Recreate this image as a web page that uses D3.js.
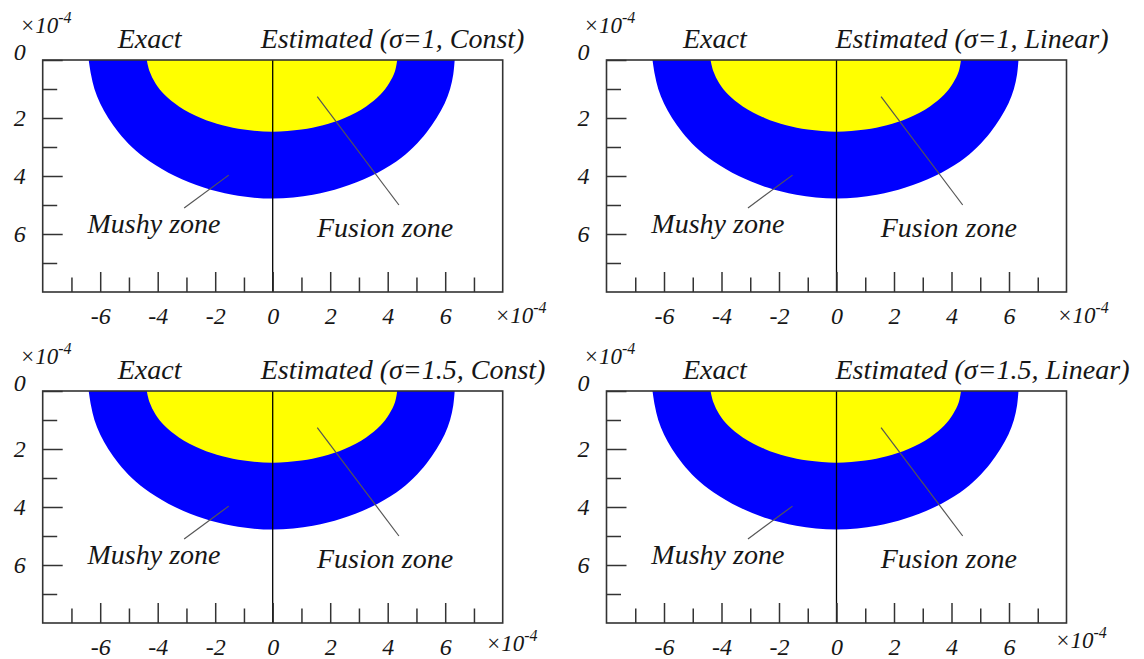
<!DOCTYPE html>
<html>
<head>
<meta charset="utf-8">
<script src="https://cdn.jsdelivr.net/npm/d3@7"></script>
<style>
  html, body { margin: 0; padding: 0; background: #fff; }
  svg text { font-family: "Liberation Serif", "Times New Roman", "DejaVu Serif", serif; font-style: italic; fill: #161616; }
</style>
</head>
<body>
<div id="chart"></div>
<script>
// boundary points: [x (x10^-4), depth (x10^-4)]
const exactMushy = [[-6.4, 0], [-6.32, 0.5], [-6.2, 1], [-6.0, 1.5], [-5.72, 2], [-5.36, 2.5], [-4.9, 3], [-4.27, 3.5], [-3.4, 4], [-2.4, 4.4], [-1.4, 4.65], [0, 4.78]];
const estMushy = [[0, 4.78], [1.4, 4.65], [2.4, 4.4], [3.42, 4], [4.3, 3.5], [4.9, 3], [5.35, 2.5], [5.7, 2], [5.98, 1.5], [6.17, 1], [6.28, 0.5], [6.33, 0]];
const exactFusion = [[-4.38, 0], [-4.28, 0.4], [-4.08, 0.8], [-3.76, 1.2], [-3.26, 1.6], [-2.5, 2.0], [-1.75, 2.25], [-1.0, 2.4], [0, 2.47]];
const estFusion = [[0, 2.47], [1.0, 2.4], [1.75, 2.25], [2.5, 2.0], [3.25, 1.6], [3.74, 1.2], [4.05, 0.8], [4.25, 0.4], [4.33, 0]];

const panelTitles = ["Estimated (σ=1, Const)", "Estimated (σ=1, Linear)", "Estimated (σ=1.5, Const)", "Estimated (σ=1.5, Linear)"];
const xMajor = [-6, -4, -2, 0, 2, 4, 6];
const xMinor = [-7, -5, -3, -1, 1, 3, 5, 7];
const yMajor = [0, 2, 4, 6];
const yMinor = [1, 3, 5, 7];

// layout of the four panels
const panels = [
    { left: 42.7, top: 60, exactDx: 75, estDx: 218, unitDx: 452, unitDy: 31 },
    { left: 606.5, top: 60, exactDx: 76.5, estDx: 229, unitDx: 450.5, unitDy: 31 },
    { left: 42.7, top: 391, exactDx: 75, estDx: 218, unitDx: 443, unitDy: 28 },
    { left: 606.5, top: 391, exactDx: 76.5, estDx: 229, unitDx: 448.5, unitDy: 25 }
];
const pw = 460, ph = 232;
const serif = "'Liberation Serif', 'Times New Roman', 'DejaVu Serif', serif";

const svg = d3.select("#chart").append("svg")
    .attr("width", 1144)
    .attr("height", 659);

function unitLabel(g, x, y) {
    const t = g.append("text").attr("x", x).attr("y", y).style("font-size", "23px");
    t.append("tspan").text("×10");
    t.append("tspan").attr("dy", -10).style("font-size", "16px").text("-4");
}

panels.forEach((p, i) => {
    const x = d3.scaleLinear().domain([-8, 8]).range([p.left, p.left + pw]);
    const y = d3.scaleLinear().domain([0, 8]).range([p.top, p.top + ph]);
    const g = svg.append("g");

    const line = d3.line().x(d => x(d[0])).y(d => y(d[1])).curve(d3.curveCatmullRom);

    g.append("path")
        .attr("d", line(exactMushy.concat(estMushy.slice(1))) + "Z")
        .attr("fill", "#0000ff");
    g.append("path")
        .attr("d", line(exactFusion.concat(estFusion.slice(1))) + "Z")
        .attr("fill", "#ffff00");

    // centre line
    g.append("line")
        .attr("x1", x(0)).attr("x2", x(0))
        .attr("y1", y(0)).attr("y2", y(8))
        .attr("stroke", "#000").attr("stroke-width", 1.3);

    // leader lines
    g.append("line")
        .attr("x1", x(-3.08)).attr("y1", y(5.1))
        .attr("x2", x(-1.53)).attr("y2", y(3.97))
        .attr("stroke", "#555").attr("stroke-width", 1.2);
    g.append("line")
        .attr("x1", x(1.55)).attr("y1", y(1.26))
        .attr("x2", x(4.39)).attr("y2", y(5.0))
        .attr("stroke", "#555").attr("stroke-width", 1.2);

    g.append("text").attr("x", x(-6.44)).attr("y", y(5.97))
        .style("font-size", "28px").text("Mushy zone");
    g.append("text").attr("x", x(1.54)).attr("y", y(6.1))
        .style("font-size", "28px").text("Fusion zone");

    // axes
    const bottom = p.top + ph;
    g.append("g")
        .attr("transform", "translate(0," + bottom + ")")
        .call(d3.axisBottom(x).tickValues(xMinor).tickSize(-14.5).tickFormat(""))
        .call(a => a.select(".domain").remove());
    g.append("g")
        .attr("transform", "translate(0," + bottom + ")")
        .call(d3.axisBottom(x).tickValues(xMajor).tickSize(-20).tickPadding(15).tickFormat(d => String(d)))
        .call(a => a.select(".domain").remove());
    g.append("g")
        .attr("transform", "translate(" + p.left + ",0)")
        .call(d3.axisLeft(y).tickValues(yMinor).tickSize(-14.5).tickFormat(""))
        .call(a => a.select(".domain").remove());
    g.append("g")
        .attr("transform", "translate(" + p.left + ",0)")
        .call(d3.axisLeft(y).tickValues(yMajor).tickSize(-20).tickPadding(17).tickFormat(d => String(d)))
        .call(a => a.select(".domain").remove())
        .call(a => a.selectAll(".tick text").filter(d => d === 0).attr("dy", "-0.02em"));

    g.selectAll(".tick line").attr("stroke", "#333").attr("stroke-width", 1.5);
    g.selectAll(".tick text")
        .attr("fill", "#161616")
        .attr("font-family", null)
        .style("font-family", serif)
        .style("font-style", "italic")
        .style("font-size", "24px");

    g.append("rect")
        .attr("x", p.left).attr("y", p.top)
        .attr("width", pw).attr("height", ph)
        .attr("fill", "none").attr("stroke", "#333").attr("stroke-width", 1.6);

    // titles
    g.append("text").attr("x", p.left + p.exactDx).attr("y", p.top - 12)
        .style("font-size", "28px").text("Exact");
    g.append("text").attr("x", p.left + p.estDx).attr("y", p.top - 12)
        .style("font-size", "28px").text(panelTitles[i]);

    unitLabel(g, p.left - 23, p.top - 27);
    unitLabel(g, p.left + p.unitDx, bottom + p.unitDy);
});
</script>
</body>
</html>
